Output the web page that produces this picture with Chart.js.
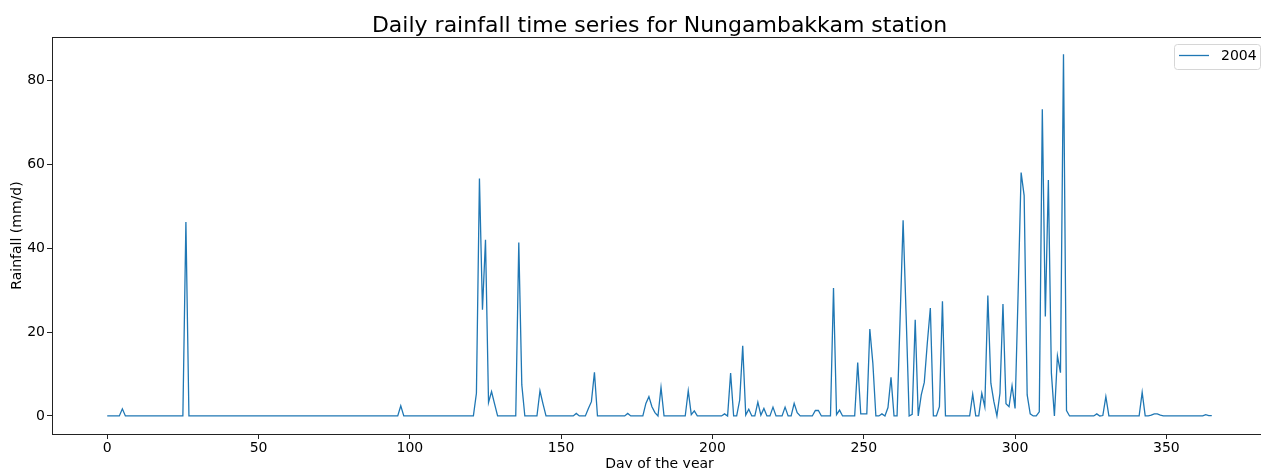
<!DOCTYPE html>
<html>
<head>
<meta charset="utf-8">
<script src="https://cdn.jsdelivr.net/npm/chart.js@4/dist/chart.umd.min.js"></script>
<style>
  html, body { margin: 0; padding: 0; background: #fff; overflow: hidden; }
  #wrap { width: 1261px; height: 468px; overflow: hidden; }
</style>
</head>
<body>
<div id="wrap"><canvas id="rain" width="1280" height="480"></canvas></div>
<script>
/* ===============================
   DATA
   =============================== */
const seriesLabel = "2004";
const xTicks = [0, 50, 100, 150, 200, 250, 300, 350];
const yTicks = [0, 20, 40, 60, 80];

// daily rainfall, mm/d, day 0 .. 365 (10 values per row)
const rainfall = [
  0, 0, 0, 0, 0, 1.7, 0, 0, 0, 0,            // 0
  0, 0, 0, 0, 0, 0, 0, 0, 0, 0,              // 10
  0, 0, 0, 0, 0, 0, 46.2, 0, 0, 0,           // 20
  0, 0, 0, 0, 0, 0, 0, 0, 0, 0,              // 30
  0, 0, 0, 0, 0, 0, 0, 0, 0, 0,              // 40
  0, 0, 0, 0, 0, 0, 0, 0, 0, 0,              // 50
  0, 0, 0, 0, 0, 0, 0, 0, 0, 0,              // 60
  0, 0, 0, 0, 0, 0, 0, 0, 0, 0,              // 70
  0, 0, 0, 0, 0, 0, 0, 0, 0, 0,              // 80
  0, 0, 0, 0, 0, 0, 0, 2.4, 0, 0,            // 90
  0, 0, 0, 0, 0, 0, 0, 0, 0, 0,              // 100
  0, 0, 0, 0, 0, 0, 0, 0, 0, 0,              // 110
  0, 0, 5.4, 56.6, 25.3, 42, 3.2, 5.8, 2.9, 0, // 120
  0, 0, 0, 0, 0, 0, 41.3, 7.4, 0, 0,         // 130
  0, 0, 0, 6.0, 2.9, 0, 0, 0, 0, 0,          // 140
  0, 0, 0, 0, 0, 0.6, 0, 0, 0, 1.8,          // 150
  3.4, 10.4, 0, 0, 0, 0, 0, 0, 0, 0,         // 160
  0, 0, 0.6, 0, 0, 0, 0, 0, 3.0, 4.6,        // 170
  2.2, 0.8, 0, 6.8, 0, 0, 0, 0, 0, 0,        // 180
  0, 0, 6.0, 0.3, 1.2, 0, 0, 0, 0, 0,        // 190
  0, 0, 0, 0, 0.5, 0, 10.2, 0, 0, 3.8,       // 200
  16.7, 0.2, 1.6, 0, 0, 3.3, 0.2, 1.8, 0, 0, // 210
  2.1, 0, 0, 0, 2.1, 0, 0, 3.0, 0.8, 0,      // 220
  0, 0, 0, 0, 1.3, 1.3, 0, 0, 0, 0,          // 230
  30.5, 0.3, 1.4, 0, 0, 0, 0, 0, 12.7, 0.5,  // 240
  0.5, 0.5, 20.7, 12.6, 0, 0, 0.5, 0, 2.0, 9.2, // 250
  0, 0, 23, 46.6, 24, 0, 0.4, 22.9, 0, 5.0,  // 260
  8.0, 17.4, 25.7, 0, 0, 2.2, 27.3, 0, 0, 0, // 270
  0, 0, 0, 0, 0, 0, 5.2, 0, 0, 5.4,          // 280
  2.2, 28.7, 7.8, 3.4, 0, 5.4, 26.7, 2.9, 2.2, 7.2, // 290
  1.8, 29, 58, 52.5, 5.0, 0.5, 0, 0, 1.0, 73.1, // 300
  23.7, 56.2, 10.2, 0, 14.3, 10.3, 86.2, 1.3, 0, 0, // 310
  0, 0, 0, 0, 0, 0, 0, 0.5, 0, 0.1,          // 320
  4.6, 0, 0, 0, 0, 0, 0, 0, 0, 0,            // 330
  0, 0, 5.6, 0, 0, 0.2, 0.5, 0.5, 0.2, 0,    // 340
  0, 0, 0, 0, 0, 0, 0, 0, 0, 0,              // 350
  0, 0, 0, 0.3, 0.1, 0.1                     // 360
];

const FONT = "'DejaVu Sans', sans-serif";

/* ===============================
   FRAME + LEGEND (matplotlib look)
   =============================== */
const framePlugin = {
  id: "frame",
  afterDatasetsDraw(chart) {
    const { ctx, chartArea: ca } = chart;
    ctx.save();
    ctx.strokeStyle = "#222";
    ctx.lineWidth = 1;
    ctx.strokeRect(Math.round(ca.left) + 0.5, Math.round(ca.top) + 0.5,
      Math.round(ca.right - ca.left), Math.round(ca.bottom - ca.top));

    // legend box, upper right
    const w = 86, h = 25;
    const x0 = ca.right - 7 - w, y0 = ca.top + 7;
    ctx.fillStyle = "rgba(255,255,255,0.8)";
    ctx.strokeStyle = "#d6d6d6";
    ctx.beginPath();
    ctx.roundRect(x0 + 0.5, y0 + 0.5, w, h, 3);
    ctx.fill();
    ctx.stroke();

    ctx.strokeStyle = "#1f77b4";
    ctx.lineWidth = 1.3;
    ctx.beginPath();
    ctx.moveTo(x0 + 5, y0 + 11.5);
    ctx.lineTo(x0 + 35, y0 + 11.5);
    ctx.stroke();

    ctx.fillStyle = "#000";
    ctx.font = "14px " + FONT;
    ctx.textBaseline = "middle";
    ctx.textAlign = "left";
    ctx.fillText(chart.data.datasets[0].label, x0 + 47, y0 + 12.5);
    ctx.restore();
  }
};

/* ===============================
   CHART
   =============================== */
const points = rainfall.map((v, i) => ({ x: i, y: v }));

new Chart(document.getElementById("rain"), {
  type: "line",
  data: {
    datasets: [{
      label: seriesLabel,
      data: points,
      borderColor: "#1f77b4",
      borderWidth: 1.3,
      pointRadius: 0,
      tension: 0,
      fill: false
    }]
  },
  options: {
    responsive: false,
    animation: false,
    layout: { padding: { left: 0, right: 13, top: 0, bottom: 0 } },
    plugins: {
      legend: { display: false },
      tooltip: { enabled: false },
      title: {
        display: true,
        text: "Daily rainfall time series for Nungambakkam station",
        color: "#000",
        fullSize: false,
        font: { family: FONT, size: 22, weight: "normal", lineHeight: 1.0 },
        padding: { top: 15, bottom: 0 }
      }
    },
    scales: {
      x: {
        type: "linear",
        min: -18.25,
        max: 383.25,
        afterBuildTicks: s => { s.ticks = xTicks.map(v => ({ value: v })); },
        afterFit: s => { s.height = 46; },
        border: { display: false },
        grid: { drawOnChartArea: false, tickLength: 5, color: "#222", tickWidth: 1 },
        ticks: { color: "#000", padding: 1, maxRotation: 0, font: { family: FONT, size: 14 } },
        title: {
          display: true,
          text: "Day of the year",
          color: "#000",
          font: { family: FONT, size: 14 },
          padding: { top: 0, bottom: 7 }
        }
      },
      y: {
        type: "linear",
        min: -4.3,
        max: 90.3,
        afterBuildTicks: s => { s.ticks = yTicks.map(v => ({ value: v })); },
        afterFit: s => { s.width = 52; },
        border: { display: false },
        grid: { drawOnChartArea: false, tickLength: 5, color: "#222", tickWidth: 1 },
        ticks: { color: "#000", padding: 2, font: { family: FONT, size: 14 } },
        title: {
          display: true,
          text: "Rainfall (mm/d)",
          color: "#000",
          font: { family: FONT, size: 14 },
          padding: { top: 9, bottom: 0 }
        }
      }
    }
  },
  plugins: [framePlugin]
});
</script>
</body>
</html>
